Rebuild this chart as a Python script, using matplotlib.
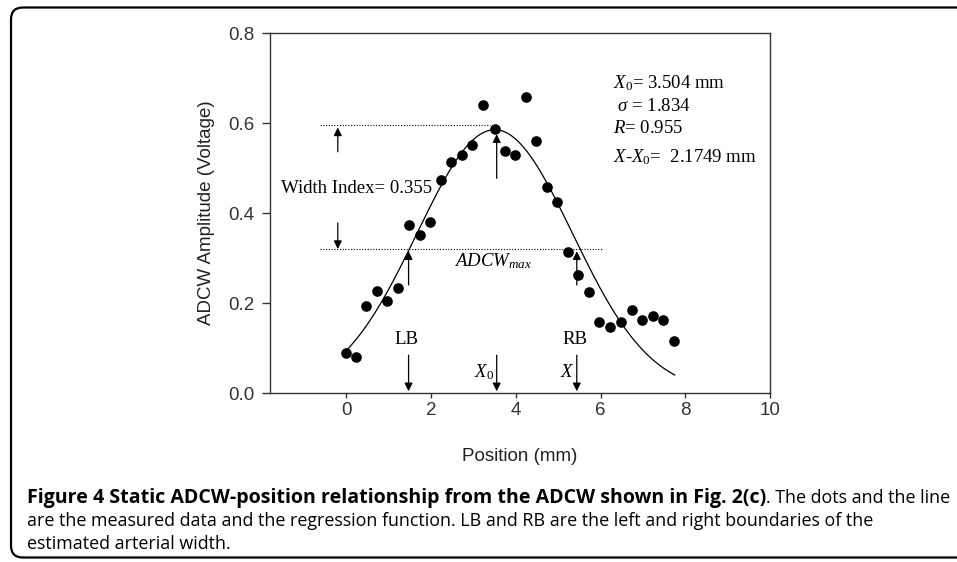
import numpy as np
import matplotlib
matplotlib.use('Agg')
import matplotlib.pyplot as plt
from matplotlib.patches import FancyBboxPatch

# ---------------- data ----------------
position_mm = [0.00, 0.24, 0.47, 0.72, 0.97, 1.23, 1.47, 1.73, 1.98, 2.24, 2.48,
               2.73, 2.97, 3.23, 3.50, 3.75, 3.99, 4.24, 4.48, 4.73, 4.98, 5.24,
               5.48, 5.73, 5.97, 6.23, 6.48, 6.74, 6.99, 7.23, 7.48, 7.74]
amplitude_v = [0.090, 0.079, 0.193, 0.226, 0.204, 0.233, 0.374, 0.351, 0.380,
               0.473, 0.514, 0.530, 0.550, 0.641, 0.587, 0.537, 0.530, 0.657,
               0.559, 0.458, 0.424, 0.313, 0.262, 0.224, 0.157, 0.146, 0.157,
               0.184, 0.162, 0.171, 0.162, 0.116]

# regression (Gaussian) parameters
fit_x0 = 3.504
fit_sigma = 1.834
fit_peak = 0.585
fit_range = (0.0, 7.75)

level_top = 0.596
level_bottom = 0.320
lb_pos = 1.47
rb_pos = 5.44
x0_arrow = 3.55

xticks = [0, 2, 4, 6, 8, 10]
yticks = [0.0, 0.2, 0.4, 0.6, 0.8]

# ---------------- style ----------------
plt.rcParams['mathtext.fontset'] = 'custom'
plt.rcParams['mathtext.rm'] = 'Liberation Serif'
plt.rcParams['mathtext.it'] = 'Liberation Serif:italic'

fig = plt.figure(figsize=(9.57, 5.62), dpi=100)
W, H = 957, 562
ax = fig.add_axes([270 / W, 1 - 393 / H, 500 / W, 360 / H])

ax.set_xlim(-1.8, 10)
ax.set_ylim(0, 0.8)

axis_col = '#333333'
sans_fs = 13.5
for s in ax.spines.values():
    s.set_color(axis_col)
    s.set_linewidth(1.0)
ax.tick_params(direction='out', width=1.0, color=axis_col,
               labelcolor='#333333', labelsize=sans_fs,
               top=False, right=False)
ax.tick_params(axis='x', length=3.5, pad=3)
ax.tick_params(axis='y', length=6, pad=5)
ax.set_xticks(xticks)
ax.set_xticklabels([str(t) for t in xticks], family='Liberation Sans')
ax.set_yticks(yticks)
ax.set_yticklabels([f'{t:.1f}' for t in yticks], family='Liberation Sans')
ax.set_xlabel('Position (mm)', family='Liberation Sans', fontsize=sans_fs,
              color='#222222', labelpad=21)
ax.set_ylabel('ADCW Amplitude (Voltage)', family='Liberation Sans',
              fontsize=sans_fs, color='#222222', labelpad=10)

# regression curve
xc = np.linspace(fit_range[0], fit_range[1], 300)
yc = fit_peak * np.exp(-0.5 * ((xc - fit_x0) / fit_sigma) ** 2)
ax.plot(xc, yc, color='black', lw=0.9)

# measured data
ax.scatter(position_mm, amplitude_v, s=44, color='black', zorder=3)

# dotted levels
ax.plot([-0.61, 3.4], [level_top, level_top], color='black', lw=0.8,
        linestyle=(0, (1, 1.5)))
ax.plot([-0.61, 6.03], [level_bottom, level_bottom], color='black', lw=0.8,
        linestyle=(0, (1, 1.5)))


def arrow(x, y_from, y_to):
    ax.annotate('', xy=(x, y_to), xytext=(x, y_from),
                arrowprops=dict(arrowstyle='-|>', color='black', lw=0.9,
                                mutation_scale=12, shrinkA=0, shrinkB=0))


# width index arrows
arrow(-0.2, 0.536, 0.590)
arrow(-0.2, 0.378, 0.320)
# peak arrow
arrow(x0_arrow, 0.477, 0.575)
# boundary up arrows
arrow(lb_pos, 0.24, 0.315)
arrow(rb_pos, 0.24, 0.315)
# down arrows
for xa in (lb_pos, x0_arrow, rb_pos):
    arrow(xa, 0.084, 0.004)

serif = 'Liberation Serif'
fs = 13.5
ax.text(lb_pos - 0.04, 0.119, 'LB', family=serif, fontsize=fs,
        ha='center', va='center')
ax.text(rb_pos - 0.04, 0.119, 'RB', family=serif, fontsize=fs,
        ha='center', va='center')
ax.text(x0_arrow - 0.05, 0.047, r'$X_{\mathit{0}}$', fontsize=fs,
        ha='right', va='center')
ax.text(rb_pos - 0.06, 0.047, r'$X$', fontsize=fs, ha='right', va='center')
ax.text(3.47, 0.292, r'$ADCW_{max}$', fontsize=fs, ha='center', va='center')
ax.text(-1.55, 0.455, 'Width Index= 0.355', family=serif, fontsize=fs,
        ha='left', va='center')

tx = 6.30
ax.text(tx, 0.688, r'$X_{\mathit{0}}$= 3.504 mm', family=serif, fontsize=fs,
        ha='left', va='center')
ax.text(tx, 0.636, r' $\sigma$ = 1.834', family=serif, fontsize=fs,
        ha='left', va='center')
ax.text(tx, 0.587, r'$R$= 0.955', family=serif, fontsize=fs,
        ha='left', va='center')
ax.text(tx, 0.525, r'$X$-$X_{\mathit{0}}$=  2.1749 mm', family=serif,
        fontsize=fs, ha='left', va='center')

# outer rounded frame (open on the right, extends past the edge)
frame = FancyBboxPatch((0.11, 0.045), 9.8, 5.50,
                       boxstyle='round,pad=0,rounding_size=0.12',
                       transform=fig.dpi_scale_trans, fill=False,
                       edgecolor='black', lw=1.6, clip_on=False)
fig.patches.append(frame)

# caption
cap_font = 'Open Sans'
bold_part = 'Figure 4 Static ADCW-position relationship from the ADCW shown in Fig. 2(c)'
rest1 = '. The dots and the line'
line2 = 'are the measured data and the regression function. LB and RB are the left and right boundaries of the'
line3 = 'estimated arterial width.'

x_left = 27 / W
r = fig.canvas.get_renderer()

# fit regular size so line 2 spans ~841 px
probe = fig.text(0, 0, line2, family=cap_font, fontsize=12)
w2 = probe.get_window_extent(renderer=r).width
probe.remove()
reg_fs = 12 * 841 / w2
probe = fig.text(0, 0, rest1, family=cap_font, fontsize=reg_fs)
wr = probe.get_window_extent(renderer=r).width
probe.remove()
probe = fig.text(0, 0, bold_part, family=cap_font, fontweight='bold', fontsize=12)
wb = probe.get_window_extent(renderer=r).width
probe.remove()
bold_fs = min(12 * (921 - wr) / wb, reg_fs * 1.12)

y1 = 1 - 503 / H
t_bold = fig.text(x_left, y1, bold_part, family=cap_font, fontweight='bold',
                  fontsize=bold_fs, va='baseline', ha='left', color='black')
bb = t_bold.get_window_extent(renderer=r)
fig.text(bb.x1 / W, y1, rest1, family=cap_font, fontsize=reg_fs,
         va='baseline', ha='left', color='black')
fig.text(x_left, 1 - 526 / H, line2, family=cap_font, fontsize=reg_fs,
         va='baseline', ha='left', color='black')
fig.text(x_left, 1 - 549 / H, line3, family=cap_font, fontsize=reg_fs,
         va='baseline', ha='left', color='black')

fig.savefig('out.png', dpi=100)
